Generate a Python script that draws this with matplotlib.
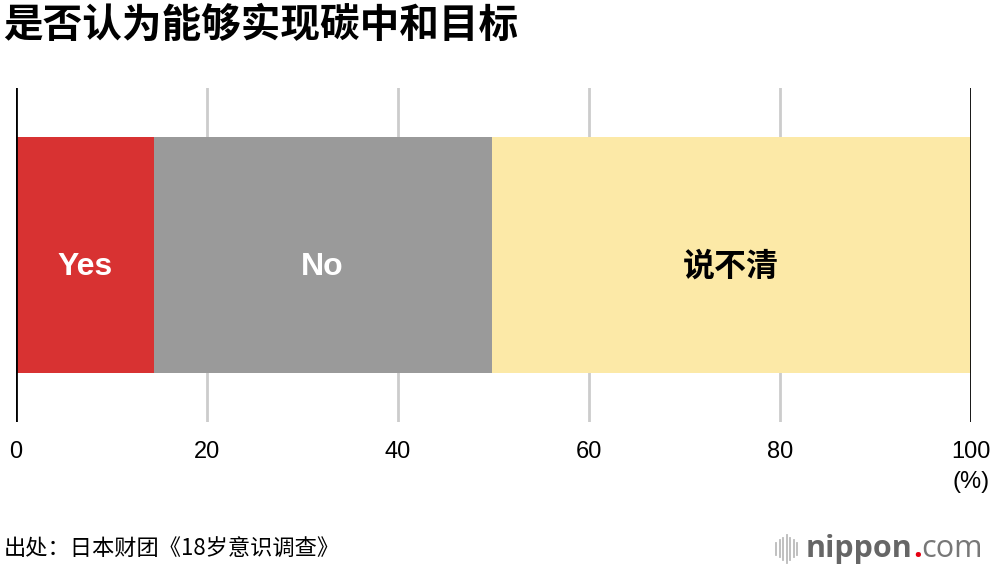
import matplotlib.pyplot as plt
from matplotlib.lines import Line2D

plt.rcParams['font.family'] = ['Liberation Sans', 'Noto Sans CJK SC', 'DejaVu Sans']

# data
categories = ['Yes', 'No', '说不清']
values = [14.4, 35.4, 50.2]
colors = ['#d83232', '#9a9a9a', '#fce9a7']
label_colors = ['white', 'white', 'black']
ticks = [0, 20, 40, 60, 80, 100]

fig = plt.figure(figsize=(10, 5.7), dpi=100)
ax = fig.add_axes([0.016, 0.2596, 0.955, 0.586])

left = 0
for cat, v, c, lc in zip(categories, values, colors, label_colors):
    ax.barh(0, v, left=left, height=0.707, color=c, zorder=2)
    ax.text(left + v / 2, -0.036, cat, ha='center', va='center', color=lc,
            fontsize=23, fontweight='bold',
            family=['Liberation Sans', 'Noto Sans CJK SC'])
    left += v

for t in ticks:
    if t in (0, 100):
        ax.axvline(t, color='black', lw=2, zorder=3)
    else:
        ax.axvline(t, color='#cccccc', lw=2, zorder=1)

ax.set_xlim(0, 100)
ax.set_ylim(-0.5, 0.5)
ax.set_xticks(ticks)
ax.set_xticklabels([str(t) for t in ticks], fontsize=17)
ax.tick_params(axis='x', length=0, pad=14)
ax.set_yticks([])
for s in ax.spines.values():
    s.set_visible(False)

fig.text(0.971, 0.155, '(%)', ha='center', va='center', fontsize=17)

fig.text(0.003, 0.955, '是否认为能够实现碳中和目标', ha='left', va='center',
         fontsize=28.5, fontweight='bold', family=['Noto Sans CJK SC'])
fig.text(0.004, 0.037, '出处：日本财团《18岁意识调查》', ha='left', va='center',
         fontsize=16, family=['Noto Sans CJK SC'])

# nippon.com logo
for i, h in enumerate([0.02, 0.03, 0.04, 0.05, 0.04, 0.03, 0.02]):
    x = 0.776 + i * 0.0035
    fig.add_artist(Line2D([x, x], [0.037 - h / 2, 0.037 + h / 2],
                          color='#bbbbbb', lw=1.3))
r = fig.canvas.get_renderer()
x0 = 0.806
for txt, col, w in [('nippon', '#666666', 'bold'), ('.', '#e60012', 'bold'),
                    ('com', '#777777', 'normal')]:
    t = fig.text(x0, 0.037, txt, ha='left', va='center', fontsize=22,
                 fontweight=w, color=col, family=['Open Sans'])
    x0 += t.get_window_extent(r).width / fig.bbox.width

fig.savefig('out.png', dpi=100)
